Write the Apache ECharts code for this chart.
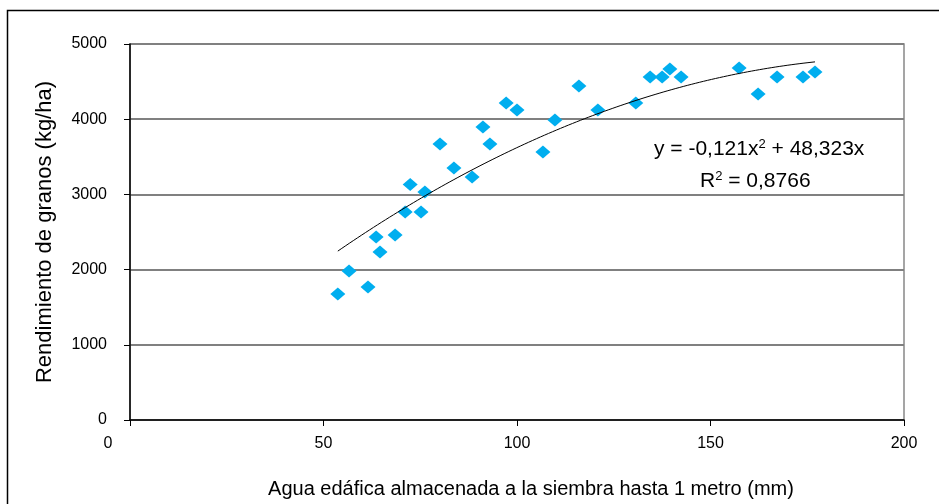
<!DOCTYPE html>
<html>
<head>
<meta charset="utf-8">
<script src="https://cdn.jsdelivr.net/npm/echarts@6/dist/echarts.min.js"></script>
<style>
html,body{margin:0;padding:0;background:#fff;}
#chart{width:939px;height:504px;}
</style>
</head>
<body>
<div id="chart"></div>
<script>
// Data
const waterMM = [53.7, 56.6, 61.5, 63.6, 64.6, 68.5, 71.1, 72.4, 75.2, 76.2, 80.1, 83.7, 88.4, 91.2, 93.0, 97.2, 100.0, 106.7, 109.8, 116.0, 120.9, 130.7, 134.4, 137.5, 139.5, 142.4, 157.4, 162.3, 167.2, 173.9, 177.0];
const yieldKg = [1675, 1981, 1768, 2433, 2234, 2460, 2766, 3130, 2766, 3032, 3670, 3351, 3231, 3896, 3670, 4215, 4122, 3564, 3989, 4441, 4122, 4215, 4561, 4561, 4667, 4561, 4680, 4335, 4561, 4561, 4628];
// Trendline coefficients as printed on the chart: y = a*x^2 + b*x
const trendCoef = [-0.121, 48.323];
const trendRange = [53.7, 177.0];
const xTicks = [0, 50, 100, 150, 200];
const yTicks = [0, 1000, 2000, 3000, 4000, 5000];

const points = waterMM.map((x, i) => [x, yieldKg[i]]);
const trend = [];
for (let k = 0; k <= 120; k++) {
  const x = trendRange[0] + (trendRange[1] - trendRange[0]) * k / 120;
  trend.push([x, trendCoef[0] * x * x + trendCoef[1] * x]);
}

const chart = echarts.init(document.getElementById('chart'), null, {renderer: 'canvas'});
const font = 'Liberation Sans, Arial, sans-serif';
chart.setOption({
  animation: false,
  backgroundColor: '#fff',
  textStyle: {fontFamily: font},
  grid: {left: 130, right: 35, top: 44, bottom: 84, show: true, borderColor: '#888', borderWidth: 1.5,
         containLabel: false, outerBoundsMode: 'none'},
  xAxis: {
    type: 'value', min: xTicks[0], max: xTicks[xTicks.length - 1], interval: 50,
    name: 'Agua edáfica almacenada a la siembra hasta 1 metro (mm)',
    nameLocation: 'middle', nameGap: 59,
    nameTextStyle: {color: '#000', fontSize: 20, fontFamily: font, padding: [0, 0, 0, 28]},
    axisLine: {show: true, onZero: false, lineStyle: {color: '#000', width: 1.5}},
    axisTick: {show: true, inside: false, length: 6, lineStyle: {color: '#000'}},
    axisLabel: {
      color: '#000', fontSize: 16, margin: 16,
      formatter: v => v === 0 ? '{z|0}' : String(v),
      rich: {z: {fontSize: 16, color: '#000', padding: [0, 44, 0, 0]}}
    },
    splitLine: {show: false}
  },
  yAxis: {
    type: 'value', min: yTicks[0], max: yTicks[yTicks.length - 1], interval: 1000,
    name: 'Rendimiento de granos (kg/ha)',
    nameLocation: 'middle', nameGap: 74, nameRotate: 90,
    nameTextStyle: {color: '#000', fontSize: 22, fontFamily: font},
    axisLine: {show: true, lineStyle: {color: '#000', width: 1.5}},
    axisTick: {show: true, inside: false, length: 6, lineStyle: {color: '#000'}},
    axisLabel: {color: '#000', fontSize: 16, margin: 23, formatter: v => String(v)},
    splitLine: {show: true, lineStyle: {color: '#808080', width: 2}}
  },
  series: [
    {
      type: 'scatter', data: points, symbol: 'diamond', symbolSize: [15, 13],
      itemStyle: {color: '#00AEEF', opacity: 1}, z: 3
    },
    {
      type: 'line', data: trend, showSymbol: false, smooth: false,
      lineStyle: {color: '#000', width: 1}, z: 4
    }
  ],
  graphic: [
    {type: 'rect', shape: {x: 7.5, y: 10.5, width: 960, height: 520}, style: {fill: 'none', stroke: '#000', lineWidth: 1.5}, silent: true},
    {type: 'text', left: 654, top: 138, style: {
      text: '{t|y = -0,121x}{s|2}{t| + 48,323x}', fill: '#000',
      rich: {t: {fontSize: 21, fontFamily: font, fill: '#000'}, s: {fontSize: 13, fontFamily: font, fill: '#000', verticalAlign: 'top', padding: [0, 0, 10, 0]}}
    }},
    {type: 'text', left: 700, top: 170, style: {
      text: '{t|R}{s|2}{t| = 0,8766}', fill: '#000',
      rich: {t: {fontSize: 21, fontFamily: font, fill: '#000'}, s: {fontSize: 13, fontFamily: font, fill: '#000', verticalAlign: 'top', padding: [0, 0, 10, 0]}}
    }}
  ]
});
</script>
</body>
</html>
